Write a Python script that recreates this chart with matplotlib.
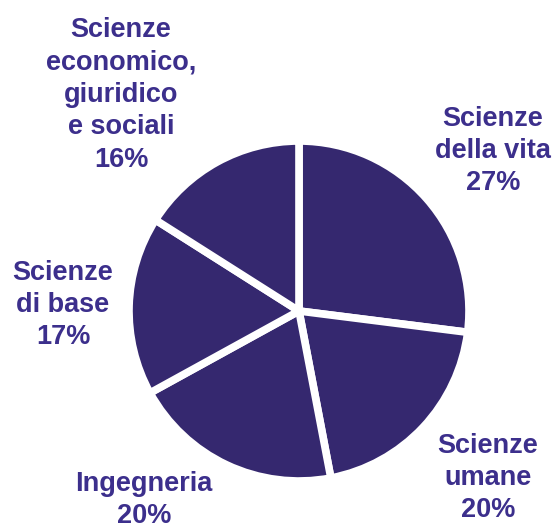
import matplotlib.pyplot as plt

# shares by area (clockwise from 12 o'clock)
labels = ['Scienze\ndella vita\n27%', 'Scienze\numane\n20%', 'Ingegneria\n20%',
          'Scienze\ndi base\n17%', 'Scienze\neconomico,\ngiuridico\ne sociali\n16%']
values = [27, 20, 20, 17, 16]

# label centres in pixels (x, y from top)
label_pos = [(493, 151), (488, 478), (144, 500), (63, 305), (121, 95)]

W, H = 557, 529
fig = plt.figure(figsize=(W / 100, H / 100), dpi=100)
ax = fig.add_axes([0, 0, 1, 1])

ax.pie(values, center=(299, H - 311), radius=170, startangle=90, counterclock=False,
       colors=['#35286f'] * len(values),
       wedgeprops=dict(edgecolor='white', linewidth=5.5), frame=True)

for txt, (x, y) in zip(labels, label_pos):
    ax.text(x, H - y, txt, ha='center', va='center', fontsize=19.5, fontweight='bold',
            family='Liberation Sans', color='#3c2f8c', linespacing=1.32)

ax.set_xlim(0, W)
ax.set_ylim(0, H)
ax.set_aspect('auto')
ax.axis('off')

fig.savefig('out.png', dpi=100)
